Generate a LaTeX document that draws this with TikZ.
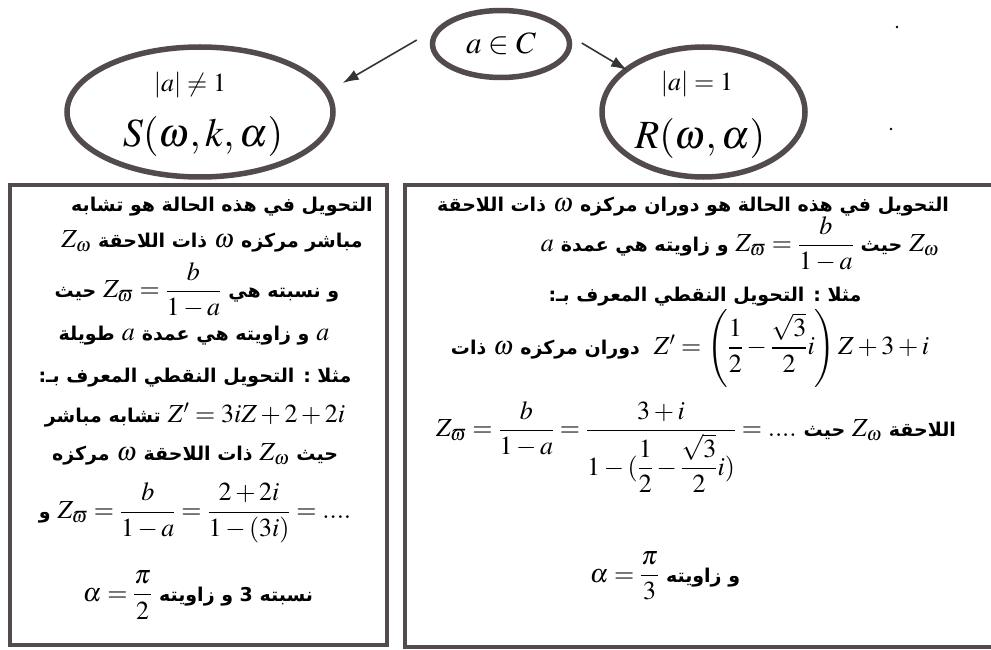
\documentclass[tikz,border=0pt]{standalone}
\usepackage{amsmath}
\usepackage{mathptmx}
\usepackage{fontspec}
\usetikzlibrary{shapes.geometric,arrows.meta}
\TeXXeTstate=1
\newfontfamily\arabicfont[Script=Arabic]{DejaVu Sans}
\newcommand\AR[1]{\rule[-5pt]{0pt}{19pt}\smash{\fontsize{19}{22}\selectfont\arabicfont\bfseries\beginR #1\endR}}
\newcommand\gap{\hspace{7pt}}
\definecolor{edgec}{RGB}{82,74,78}
\definecolor{arrowc}{RGB}{55,52,55}
\begin{document}
\begin{tikzpicture}[x=1pt,y=-1pt,
  frame/.style={draw=edgec, line width=4pt, inner sep=0pt},
  oval/.style={ellipse, draw=edgec, line width=5.5pt, inner sep=0pt},
  link/.style={draw=arrowc, line width=1.6pt, -{Latex[length=16pt,width=11pt]}},
  txt/.style={inner sep=0pt, anchor=center, font=\fontsize{26}{30}\selectfont},
  big/.style={inner sep=0pt, anchor=center, font=\fontsize{40}{44}\selectfont},
  mid/.style={inner sep=0pt, anchor=center, font=\fontsize{26}{28}\selectfont},
]
\useasboundingbox (0,0) rectangle (991,650);
\fill[white] (0,0) rectangle (991,650);

% ovals
\node[oval, minimum width=137pt, minimum height=67pt, font=\fontsize{31}{34}\selectfont] (top) at (501,44) {$a\in C$};
\node[oval, minimum width=266pt, minimum height=130pt] (sim) at (200,112) {};
\node[oval, minimum width=203pt, minimum height=130pt] (rot) at (703.5,112) {};
\node[mid] (simA) at (190,85) {$\left|a\right|\neq 1$};
\node[big] (simB) at (203,137) {$S(\omega{,}\,k{,}\,\alpha)$};
\node[mid] (rotA) at (697,84) {$\left|a\right|=1$};
\node[big] (rotB) at (700,139) {$R(\omega{,}\,\alpha)$};

% arrows
\draw[link] ([shift={(-13,-4)}]top.west) -- ([shift={(7,-29)}]sim.east);
\draw[link] ([shift={(9.5,-1)}]top.east) -- ([shift={(-76.5,-42)}]rot.center);

% boxes
\node[frame, minimum width=377pt, minimum height=460pt] (lbox) at (198.5,415) {};
\node[frame, minimum width=640pt, minimum height=462pt] (rbox) at (725,416) {};

% left box text
\node[txt] (l1) at (222,207) {\AR{التحويل في هذه الحالة هو تشابه}};
\node[txt] (l2) at (212,242) {$Z_\omega$\gap\AR{ذات اللاحقة}\gap$\omega$\gap\AR{مباشر مركزه}};
\node[txt] (l3) at (197,290) {\AR{حيث}\gap$Z_\varpi=\dfrac{b}{1-a}$\gap\AR{و نسبته هي}};
\node[txt] (l4) at (194,336) {\AR{طويلة}\gap$a$\gap\AR{و زاويته هي عمدة}\gap$a$};
\node[txt] (l5) at (195,378) {\AR{مثلا : التحويل النقطي المعرف بـ:}};
\node[txt] (l6) at (195,415) {\AR{تشابه مباشر}\gap$Z'=3iZ+2+2i$};
\node[txt] (l7) at (195,455) {\AR{مركزه}\gap$\omega$\gap\AR{ذات اللاحقة}\gap$Z_\omega$\gap\AR{حيث}};
\node[txt] (l8) at (195,513) {\AR{و}\gap$Z_\varpi=\dfrac{b}{1-a}=\dfrac{2+2i}{1-(3i)}=....$};
\node[txt] (l9) at (198,595) {$\alpha=\dfrac{\pi}{2}$\gap\AR{نسبته 3 و زاويته}};

% right box text
\node[txt] (r1) at (693,207) {\AR{ذات اللاحقة}\gap$\omega$\gap\AR{التحويل في هذه الحالة هو دوران مركزه}};
\node[txt] (r2) at (740,244) {$a$\gap\AR{و زاويته هي عمدة}\gap$Z_\varpi=\dfrac{b}{1-a}$\gap\AR{حيث}\gap$Z_\omega$};
\node[txt] (r3) at (705,297) {\AR{مثلا : التحويل النقطي المعرف بـ:}};
\node[txt] (r4) at (690,348) {\AR{ذات}\gap$\omega$\gap\AR{دوران مركزه}\hspace{14pt}$Z'=\left(\dfrac{1}{2}-\dfrac{\sqrt{3}}{2}i\right)Z+3+i$};
\node[txt] (r5) at (696,447) {$Z_\varpi=\dfrac{b}{1-a}=\dfrac{3+i}{1-(\dfrac{1}{2}-\dfrac{\sqrt{3}}{2}i)}=....$\gap\AR{حيث}\gap$Z_\omega$\gap\AR{اللاحقة}};
\node[txt] (r6) at (665,576) {$\alpha=\dfrac{\pi}{3}$\gap\AR{و زاويته}};

% specks
\fill[black] (897,27) circle (1.3pt);
\fill[black] (891,129) circle (1.3pt);
\end{tikzpicture}
\end{document}
